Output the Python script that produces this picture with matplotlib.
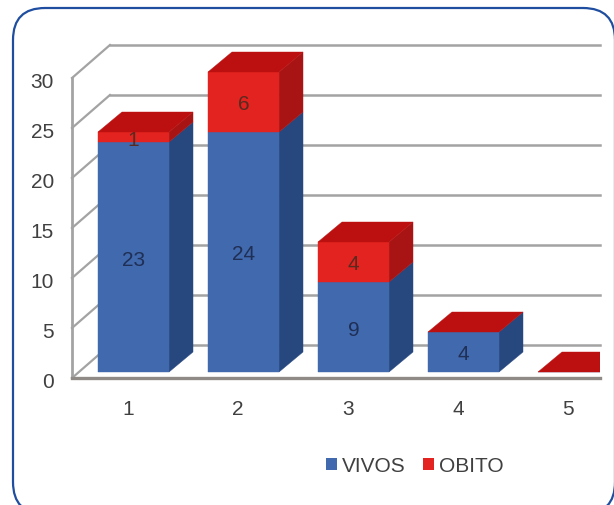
import matplotlib
matplotlib.use("Agg")
from matplotlib import pyplot as plt
from matplotlib.patches import Polygon, FancyBboxPatch, Patch
from matplotlib.transforms import Bbox, IdentityTransform, ScaledTranslation

plt.rcParams['font.family'] = ['Liberation Sans', 'DejaVu Sans']

categories = [1, 2, 3, 4, 5]
vivos = [23, 24, 9, 4, 0]
obito = [1, 6, 4, 0, 0]
y_ticks = [0, 5, 10, 15, 20, 25, 30]

BLUE, BLUE_SIDE = '#4169AD', '#27477F'
RED, RED_SIDE, RED_TOP = '#E2231F', '#A81414', '#BC1010'
GREY = '#A3A3A3'
TEXT = '#404040'

# depth of the fake 3d, in data units (1 category = 110 px, 1 value = 10 px)
WALL_DX, WALL_DY = 0.345, 3.3
BAR_DX, BAR_DY = 0.218, 2.0
BAR_LEFT, BAR_RIGHT = -0.273, 0.373
BASE = 0.6
LABEL_SHIFT = 0.3

fig = plt.figure(figsize=(6.14, 5.05), dpi=100, facecolor='white')
ax = fig.add_axes([72 / 614, 127 / 505, 528 / 614, 300 / 505])
ax.set_xlim(0.4909, 5.291)
ax.set_ylim(0, 30)
ax.patch.set_alpha(0)
for s in ax.spines.values():
    s.set_visible(False)

clip = Bbox([[0, 0], [600, 505]])


def poly(pts, color, z):
    p = Polygon(pts, closed=True, facecolor=color, edgecolor=color, linewidth=0.3,
                zorder=z, clip_on=True)
    ax.add_patch(p)
    p.set_clip_path(None)
    p.set_clip_box(clip)


# walls
x0 = ax.get_xlim()[0]
x1 = ax.get_xlim()[1]
for v in y_ticks:
    ax.plot([x0, x0 + WALL_DX], [v, v + WALL_DY], color=GREY, lw=1.6, zorder=1, clip_on=False)
    ax.plot([x0 + WALL_DX, x1], [v + WALL_DY, v + WALL_DY], color=GREY, lw=1.8, zorder=1, clip_on=False)
ax.plot([x0, x0], [0, 30], color=GREY, lw=2, zorder=1, clip_on=False)
ax.plot([x0, x1], [0, 0], color='#8F8A86', lw=2.4, zorder=1, clip_on=False)

# bars, left to right
for i, (c, a, b) in enumerate(zip(categories, vivos, obito)):
    z = 3 + i
    l, r = c + BAR_LEFT, c + BAR_RIGHT
    y0, y1, y2 = BASE, BASE + a, BASE + a + b
    poly([(r, y0), (r + BAR_DX, y0 + BAR_DY), (r + BAR_DX, y1 + BAR_DY), (r, y1)], BLUE_SIDE, z)
    poly([(l, y0), (r, y0), (r, y1), (l, y1)], BLUE, z)
    if b > 0:
        poly([(r, y1), (r + BAR_DX, y1 + BAR_DY), (r + BAR_DX, y2 + BAR_DY), (r, y2)], RED_SIDE, z)
        poly([(l, y1), (r, y1), (r, y2), (l, y2)], RED, z)
    poly([(l, y2), (r, y2), (r + BAR_DX, y2 + BAR_DY), (l + BAR_DX, y2 + BAR_DY)], RED_TOP, z)
    if a > 0:
        ax.text((l + r) / 2, BASE + a / 2 - LABEL_SHIFT, str(a), ha='center', va='center', fontsize=15,
                color='#1F2F55', zorder=20)
    if b > 0:
        ax.text((l + r) / 2, BASE + a + b / 2 - LABEL_SHIFT, str(b), ha='center', va='center', fontsize=15,
                color='#5A2A20', zorder=20)

ax.set_xticks(categories)
ax.set_yticks(y_ticks)
ax.tick_params(axis='x', length=0, pad=16, labelsize=15, labelcolor=TEXT)
ax.tick_params(axis='y', length=0, pad=13, labelsize=15, labelcolor=TEXT)
for label in ax.get_yticklabels():
    label.set_transform(label.get_transform() + ScaledTranslation(0, -2 / 100, fig.dpi_scale_trans))

fig.legend(handles=[Patch(facecolor=BLUE, label='VIVOS'), Patch(facecolor=RED, label='OBITO')],
           loc='center', bbox_to_anchor=(415 / 614, (505 - 466) / 505), ncol=2, frameon=False,
           fontsize=15, labelcolor=TEXT, handlelength=0.5, handleheight=0.5, handletextpad=0.25,
           columnspacing=0.85, borderpad=0, borderaxespad=0)

# rounded frame runs off the right and bottom of the picture
frame = FancyBboxPatch((45, 23), 538, 442, boxstyle='round,pad=32,rounding_size=32',
                       transform=IdentityTransform(), facecolor='none', edgecolor='#1F4EA0',
                       linewidth=1.6, zorder=30)
fig.add_artist(frame)

fig.savefig('out.png', dpi=100)
